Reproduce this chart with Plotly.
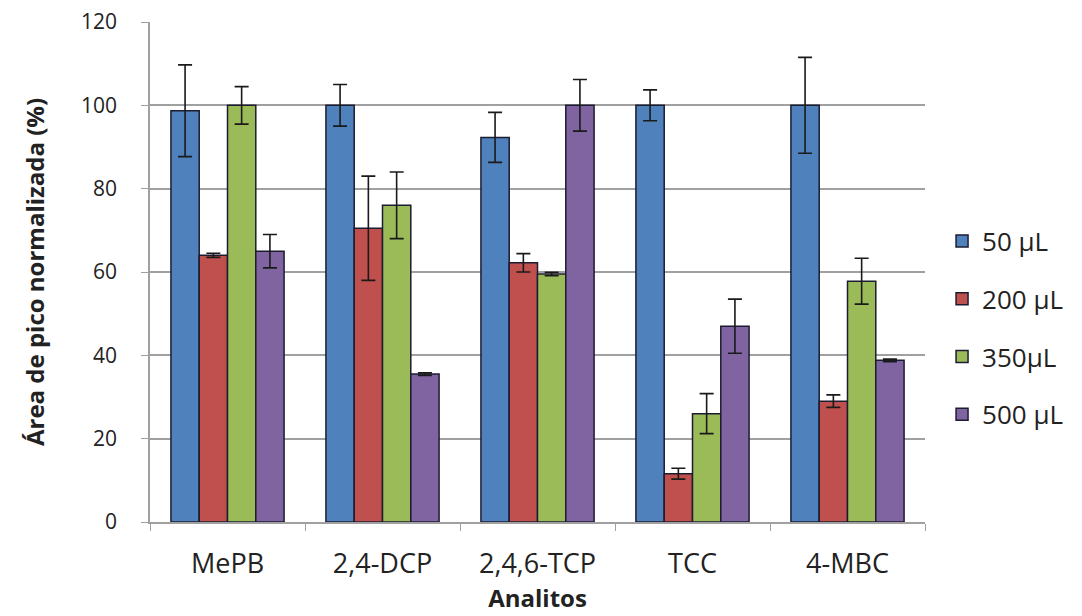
import plotly.graph_objects as go

categories = ["MePB", "2,4-DCP", "2,4,6-TCP", "TCC", "4-MBC"]
series_names = ["50 µL", "200 µL", "350µL", "500 µL"]
v50 = [98.7, 100, 92.3, 100, 100]
e50 = [11, 5, 6, 3.7, 11.5]
v200 = [64, 70.5, 62.2, 11.6, 29]
e200 = [0.5, 12.5, 2.2, 1.3, 1.5]
v350 = [100, 76, 59.5, 26, 57.8]
e350 = [4.5, 8, 0.4, 4.8, 5.5]
v500 = [65, 35.5, 100, 47, 38.8]
e500 = [4, 0.3, 6.2, 6.5, 0.3]
colors = ["#4F81BD", "#C0504D", "#9BBB59", "#8064A2"]
yticks = [0, 20, 40, 60, 80, 100, 120]

vals = [v50, v200, v350, v500]
errs = [e50, e200, e350, e500]

fig = go.Figure()
for i, (name, v, e, c) in enumerate(zip(series_names, vals, errs, colors)):
    fig.add_trace(go.Bar(
        x=categories, y=v, name=name, legendgroup=str(i),
        marker=dict(color=c, line=dict(color="#1c1c30", width=1.5)),
        error_y=dict(type="data", array=e, visible=True, color="#1a1a1a",
                     thickness=1.6, width=7),
    ))

font_family = "Open Sans, Noto Sans, DejaVu Sans, sans-serif"
fig.update_layout(
    width=1082, height=616,
    margin=dict(l=142, r=165, t=14, b=102, autoexpand=False),
    barmode="group", bargap=0.27, bargroupgap=0,
    plot_bgcolor="white", paper_bgcolor="white",
    font=dict(family=font_family, size=22, color="#222222"),
    legend=dict(x=1.022, y=0.388, xanchor="left", yanchor="middle",
                tracegroupgap=21, font=dict(size=26),
                itemwidth=30),
    showlegend=True,
)
fig.update_yaxes(
    range=[0, 120], tickvals=yticks, showgrid=True, gridcolor="#a0a0a0",
    gridwidth=1.5, showline=True, linecolor="#a0a0a0", linewidth=1.5,
    ticks="outside", ticklen=7, tickcolor="#a0a0a0", zeroline=False,
    ticklabelstandoff=20, automargin=False, ticklabeloverflow="allow",
    title=dict(text="<b>Área de pico normalizada (%)</b>", font=dict(size=24), standoff=30),
    tickfont=dict(size=21),
)
fig.update_xaxes(
    showline=True, linecolor="#a0a0a0", linewidth=1.5, automargin=False,
    ticks="outside", tickson="boundaries", ticklen=7, tickcolor="#a0a0a0",
    ticklabelstandoff=17, ticklabeloverflow="allow",
    title=dict(text="<b>Analitos</b>", font=dict(size=24), standoff=9),
    tickfont=dict(size=27),
)

fig.write_html("out.html")
